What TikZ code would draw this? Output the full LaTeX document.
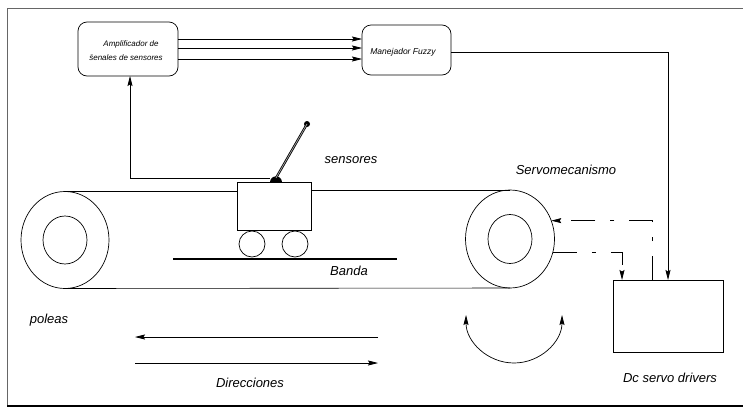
\documentclass[tikz,border=0pt]{standalone}
\usepackage{fontspec}
\setmainfont{Liberation Sans}
\usetikzlibrary{arrows.meta,shapes.geometric}
\begin{document}
\begin{tikzpicture}[x=1pt,y=-1pt,
  line width=0.7pt,
  arr/.style={-{Stealth[length=10pt,width=5pt,inset=1.5pt]}},
  arrs/.style={{Stealth[length=10pt,width=5pt,inset=1.5pt]}-{Stealth[length=10pt,width=5pt,inset=1.5pt]}},
  dashdot/.style={dash pattern=on 24pt off 15pt on 4pt off 15pt},
  block/.style={draw,rounded corners=9pt,inner sep=0pt,outer sep=0pt},
  plainbox/.style={draw,inner sep=0pt,outer sep=0pt},
  pulley/.style={draw,ellipse,inner sep=0pt,outer sep=0pt},
  wheel/.style={draw,circle,inner sep=0pt,outer sep=0pt,minimum size=26pt},
  lbl/.style={font=\fontsize{13}{15}\selectfont\itshape,inner sep=0pt},
  small/.style={font=\fontsize{8}{9.5}\selectfont\itshape,inner sep=0pt}]
\useasboundingbox (0,0) rectangle (743,410);

% frame
\draw[gray!80!black,line width=0.6pt] (743,8) -- (7,8) -- (7,406);
\draw[line width=1.8pt] (7,406) -- (743,406);

% control blocks
\node[block,minimum width=100pt,minimum height=54pt] (amp) at (128,49) {};
\node[small] (ampA) at (131,44) {Amplificador de};
\node[small] (ampB) at (126,58) {{\=s}enales de sensores};
\node[block,minimum width=89pt,minimum height=50pt] (man) at (406.5,50) {};
\node[small,font=\fontsize{8.5}{10}\selectfont\itshape] (manT) at (403,52) {Manejador Fuzzy};
\node[plainbox,minimum width=110pt,minimum height=72pt] (dc) at (668,316) {};

% signal lines between the blocks
\foreach \yy in {39,48,59}
  \draw[arr] (amp.east |- 0,\yy) -- (man.west |- 0,\yy);
\draw[arr] (man.east |- 0,52) -| (dc.north);

% pulleys and belt
\node[pulley,minimum width=88pt,minimum height=97pt] (pl) at (65,240) {};
\node[pulley,minimum width=44pt,minimum height=48pt] (pli) at (65,240) {};
\node[pulley,minimum width=89pt,minimum height=98pt] (pr) at (510,239) {};
\node[pulley,minimum width=44pt,minimum height=49pt] (pri) at (510,239) {};

% cart
\node[plainbox,minimum width=74pt,minimum height=48pt] (cart) at (274,206) {};
\node[wheel] (w1) at (252,244) {};
\node[wheel] (w2) at (295,244) {};
\coordinate (g1) at (173,259);
\coordinate (g2) at (397,259);
\draw[line width=2.4pt] (g1) -- (g2);

\draw[line width=0.6pt] (pl.north) -- (cart.west |- pl.north);
\draw[line width=0.6pt] (cart.east |- pr.north) -- (pr.north);
\draw[line width=0.6pt] (pl.south) -- (pr.south);

% sensor arm
\coordinate (piv) at (276,182);
\fill (270,182.3) arc[start angle=180,end angle=0,radius=6pt] -- cycle;
\node[circle,fill,inner sep=0pt,minimum size=6pt] (tip) at (307,124) {};
\draw[double=gray!70,double distance=0.7pt,line width=0.8pt] (276,178) -- (tip.center);

% sensor wire back to the amplifier
\coordinate (wire) at (270,178);
\draw[arr] (wire) -| (amp.south -| 130,0);

% servo loops
\draw[arr,dashdot] (dc.north -| 652,0) |- (pr.24);
\draw[arr,dashdot] (pr.-17) -| (dc.north -| 622,0);

% rotation and directions
\coordinate (rotL) at (466,315);
\draw[arrs] (rotL) arc[start angle=180,end angle=360,radius=48pt];
\coordinate (dA) at (378,337);
\coordinate (dB) at (135,337);
\coordinate (dC) at (135,363);
\coordinate (dD) at (378,363);
\draw[arr] (dA) -- (dB);
\draw[arr] (dC) -- (dD);

% labels
\node[lbl] (t1) at (351,160) {sensores};
\node[lbl] (t2) at (566,170) {Servomecanismo};
\node[lbl] (t3) at (349,271) {Banda};
\node[lbl] (t4) at (49,320) {poleas};
\node[lbl] (t5) at (250,383) {Direcciones};
\node[lbl] (t6) at (670,378) {Dc servo drivers};
\end{tikzpicture}
\end{document}
